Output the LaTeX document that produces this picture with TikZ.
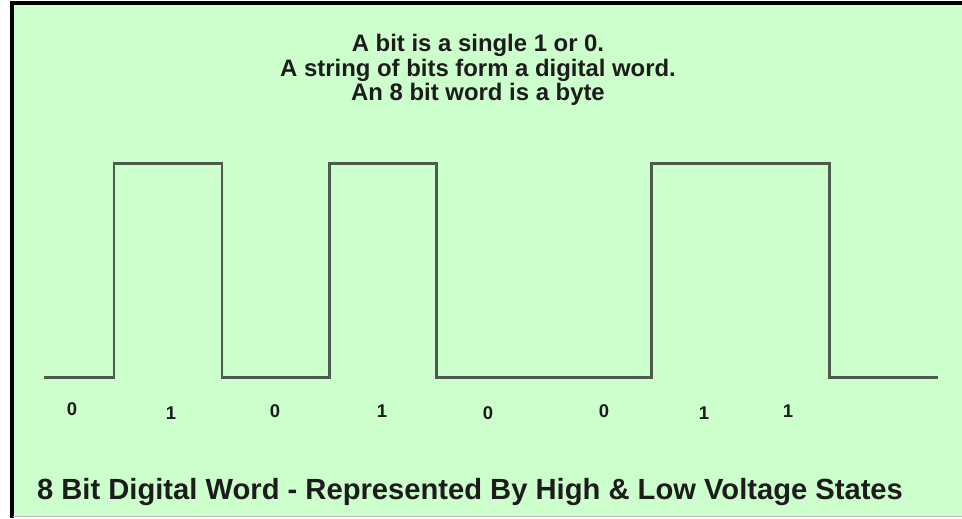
\documentclass[tikz,border=0pt]{standalone}
\usepackage{fontspec}
\setmainfont{Liberation Sans}
\usetikzlibrary{positioning}
\definecolor{panelbg}{HTML}{CCFFCC}
\definecolor{wave}{HTML}{4F5A4F}
\definecolor{ink}{HTML}{1C1C1C}

\begin{document}
\begin{tikzpicture}[
    x=0.02cm, y=-0.02cm,
    every node/.style={text=ink, inner sep=0pt},
    head/.style={font=\bfseries\fontsize{13.6}{13.9}\selectfont, align=center},
    bitlbl/.style={font=\bfseries\fontsize{10.5}{12}\selectfont},
    title/.style={font=\bfseries\fontsize{16.6}{19}\selectfont},
    sig/.style={wave, line width=1.7pt, line join=miter}
]
    % panel
    \fill[white] (0,0) rectangle (962,518);
    \fill[panelbg] (12,3) rectangle (962,516);
    \useasboundingbox (0,0) rectangle (962,518);
    \draw[black, line width=2.3pt] (12,518) -- (12,3) -- (962,3);
    \draw[black!25, line width=0.8pt] (13,516.5) -- (962,516.5);

    % text
    \node[head] (intro) at (478,70) {A bit is a single 1 or 0.\\
        A string of bits form a digital word.\\
        An 8 bit word is a byte};

    % signal
    \draw[sig] (44,377) -- (114,377) -- (114,163) -- (222,163) -- (222,377)
        -- (329,377) -- (329,163) -- (436,163) -- (436,377)
        -- (651,377) -- (651,163) -- (829,163) -- (829,377) -- (938,377);

    % bits
    \foreach \n/\x/\y/\b in {1/72/409/0, 2/171/413/1, 3/275/411/0, 4/382/411/1,
                             5/488/413/0, 6/604/411/0, 7/704/413/1, 8/788/411/1}
        \node[bitlbl] (bit\n) at (\x,\y) {\b};

    \node[title] (caption) at (470,492) {8 Bit Digital Word - Represented By High \& Low Voltage States};
\end{tikzpicture}
\end{document}
